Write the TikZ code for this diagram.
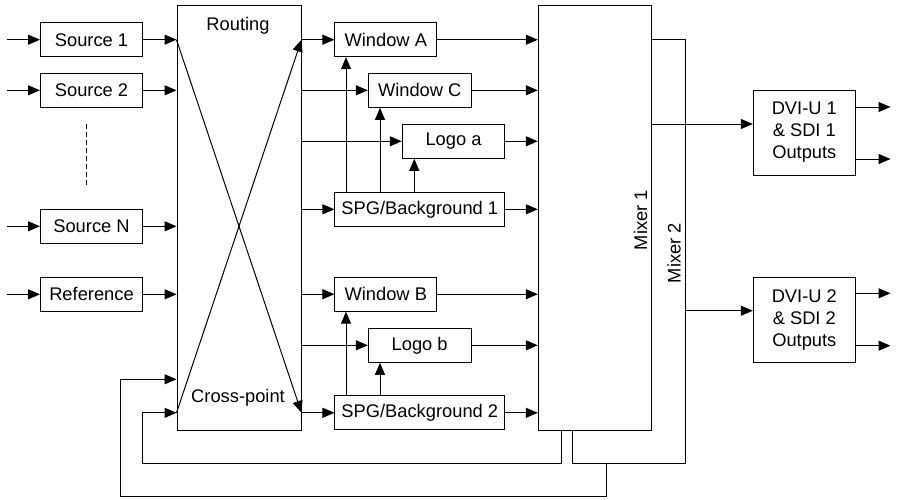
\documentclass[tikz,border=0pt]{standalone}
\usepackage{fontspec}
\setmainfont{Liberation Sans}
\usetikzlibrary{arrows.meta,calc}
\begin{document}
\begin{tikzpicture}[x=1pt,y=-1pt,
  line width=1pt,
  txt/.style={font=\fontsize{18.3pt}{22pt}\selectfont},
  box/.style={draw,inner sep=0pt,txt,align=center},
  sbox/.style={box,minimum width=102pt,minimum height=34pt},
  arr/.style={-{Triangle[length=12pt,width=10pt]}},
  lbl/.style={txt,inner sep=0pt}]
\useasboundingbox (0,0) rectangle (897,499);

% sources
\node[sbox] (s1) at (91.5,39.7) {Source 1};
\node[sbox] (s2) at (91.5,90.3) {Source 2};
\node[sbox] (sN) at (91.5,226.3) {Source N};
\node[sbox] (ref) at (91.5,294.3) {Reference};
\coordinate (dt) at (86,124);
\coordinate (db) at (86,187);
\draw[dash pattern=on 5pt off 3pt] (dt) -- (db);

% routing
\node[box,minimum width=124pt,minimum height=425pt] (rt) at (239,217.5) {};
\node[lbl] (rtl) at (238,26) {Routing};
\node[lbl] (cpl) at (238,398) {Cross-point};

% windows
\node[box,minimum width=101.7pt,minimum height=34pt] (wA) at (385.8,39.7) {Window A};
\node[box,minimum width=102.7pt,minimum height=34pt] (wC) at (419.7,90.3) {Window C};
\node[box,minimum width=102.4pt,minimum height=34pt] (la) at (453.5,141.3) {Logo a};
\node[box,minimum width=169.7pt,minimum height=34pt] (g1) at (419.8,209.3) {SPG/Background 1};
\node[box,minimum width=101.7pt,minimum height=34pt] (wB) at (385.8,294.2) {Window B};
\node[box,minimum width=102.7pt,minimum height=34pt] (lb) at (419.7,345.3) {Logo b};
\node[box,minimum width=169.7pt,minimum height=34pt] (g2) at (419.8,412.8) {SPG/Background 2};

% mixers
\node[box,minimum width=113.4pt,minimum height=424.7pt] (m1) at (595,217.7) {};
\coordinate (m2t) at (651.7,39.3);
\coordinate (m2tr) at (685.7,39.3);
\coordinate (m2br) at (685.7,463.3);
\coordinate (m2bl) at (572.7,463.3);
\draw (m1.east |- m2t) -- (m2tr) -- (m2br) -- (m2bl) -- (m2bl |- m1.south);
\node[lbl,rotate=90] (m1l) at (640.5,220) {Mixer 1};
\node[lbl,rotate=90] (m2l) at (674,253) {Mixer 2};

% outputs
\node[box,minimum width=102pt,minimum height=85pt] (d1) at (804.3,132.5) {DVI-U 1\\ \& SDI 1\\ Outputs};
\node[box,minimum width=102pt,minimum height=84.7pt] (d2) at (804.3,319.7) {DVI-U 2\\ \& SDI 2\\ Outputs};

% input arrows
\foreach \n in {s1,s2,sN,ref}{
  \draw[arr] ([xshift=-33.5pt]\n.west) -- (\n.west);
  \draw[arr] (\n.east) -- (rt.west |- \n.east);
}

% crossing lines
\draw[arr] (rt.west |- s1) -- (rt.east |- g2);
\draw[arr] (rt.west |- g2) -- (rt.east |- wA);

% routing to blocks
\foreach \n in {wA,wC,la,g1,wB,lb,g2}{
  \draw[arr] (rt.east |- \n.west) -- (\n.west);
  \draw[arr] (\n.east) -- (m1.west |- \n.east);
}

% SPG vertical arrows
\coordinate (vA) at (346,0);
\coordinate (vC) at (380,0);
\coordinate (va) at (414.3,0);
\draw[arr] (g1.north -| vA) -- (wA.south -| vA);
\draw[arr] (g1.north -| vC) -- (wC.south -| vC);
\draw[arr] (g1.north -| va) -- (la.south -| va);
\draw[arr] (g2.north -| vA) -- (wB.south -| vA);
\draw[arr] (g2.north -| vC) -- (lb.south -| vC);

% mixer outputs
\draw[arr] (m1.east |- 0,124) -- ([yshift=8.5pt]d1.west);
\draw[arr] (m2tr |- 0,310.7) -- ([yshift=9pt]d2.west);
\draw[arr] ([yshift=25.5pt]d1.east) -- ++(34.7,0);
\draw[arr] ([yshift=-26.5pt]d1.east) -- ++(34.7,0);
\draw[arr] ([yshift=26.4pt]d2.east) -- ++(34.7,0);
\draw[arr] ([yshift=-26pt]d2.east) -- ++(34.7,0);

% feedback
\coordinate (f1) at (561.7,463.3);
\coordinate (f1l) at (142.7,463.3);
\coordinate (f2) at (606.7,463.3);
\coordinate (f2b) at (606.7,496.7);
\coordinate (f2l) at (120,496.7);
\coordinate (f2y) at (0,379.3);
\draw[arr] (m1.south -| f1) -- (f1) -- (f1l) |- (rt.west |- g2);
\draw[arr] (f2) -- (f2b) -- (f2l) |- (rt.west |- f2y);
\end{tikzpicture}
\end{document}
